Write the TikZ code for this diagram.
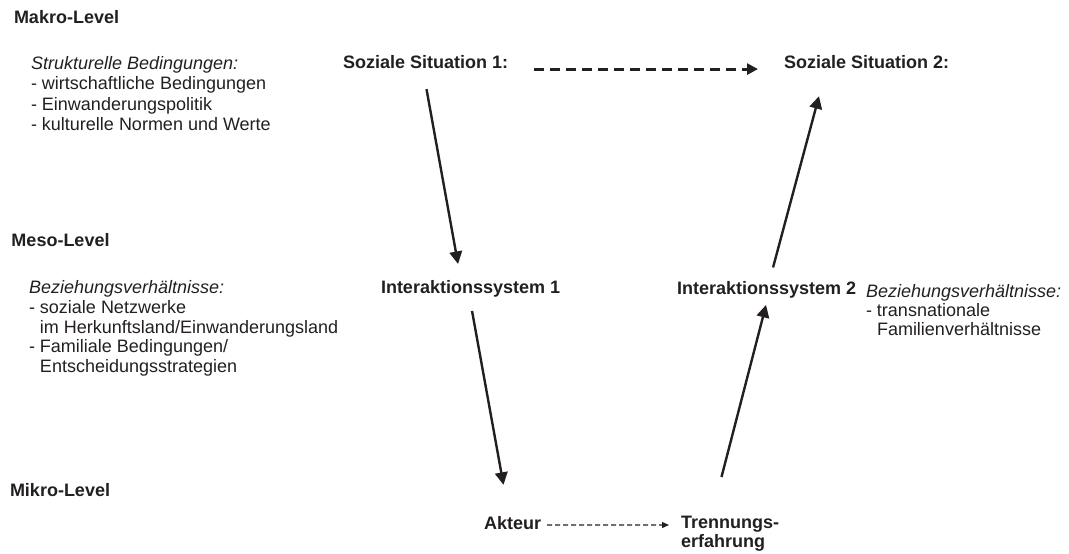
\documentclass[tikz,border=0pt]{standalone}
\usepackage{fontspec}
\setmainfont{Liberation Sans}
\usetikzlibrary{arrows.meta}
\definecolor{ink}{RGB}{35,31,32}
\begin{document}
\begin{tikzpicture}[x=1pt,y=-1pt,
  every node/.style={inner sep=0pt,outer sep=0pt,text=ink},
  lvl/.style={font=\fontsize{18}{20}\selectfont\bfseries,anchor=base west},
  main/.style={font=\fontsize{18}{20}\selectfont\bfseries,anchor=base west},
  note/.style={font=\fontsize{18}{20.3}\selectfont,anchor=north west,align=left},
  arr/.style={draw=ink,line width=2.4pt,-{Triangle[length=12.5pt,width=12.5pt]}},
  bigdash/.style={draw=ink,line width=3pt,dash pattern=on 10pt off 6pt,-{Triangle[length=11pt,width=11pt]}},
  smalldash/.style={draw=ink,line width=1.3pt,dash pattern=on 5pt off 3pt,-{Triangle[length=7pt,width=6pt]}}]
\useasboundingbox (0,0) rectangle (1069,554);
% level labels
\node[lvl] (makro) at (14,23.5) {Makro-Level};
\node[lvl] (meso) at (11.5,246.5) {Meso-Level};
\node[lvl] (mikro) at (10,496.5) {Mikro-Level};
% notes
\node[note] (struk) at (31,56.5) {\itshape Strukturelle Bedingungen:\\- wirtschaftliche Bedingungen\\- Einwanderungspolitik\\- kulturelle Normen und Werte};
\node[note,font=\fontsize{18}{19.8}\selectfont] (bez1) at (29,280.5) {\itshape Beziehungsverhältnisse:\\- soziale Netzwerke\\\phantom{- }im Herkunftsland/Einwanderungsland\\- Familiale Bedingungen/\\\phantom{- }Entscheidungsstrategien};
\node[note,font=\fontsize{18}{19}\selectfont] (bez2) at (866,284.5) {\itshape Beziehungsverhältnisse:\\- transnationale\\\phantom{- }Familienverhältnisse};
% main nodes
\node[main] (soz1) at (343,68.5) {Soziale Situation 1:};
\node[main] (soz2) at (784,68.5) {Soziale Situation 2:};
\node[main] (int1) at (381,293.5) {Interaktionssystem 1};
\node[main] (int2) at (677,294.5) {Interaktionssystem 2};
\node[main] (akt) at (484,529.5) {Akteur};
\node[note,font=\fontsize{18}{19}\selectfont\bfseries] (trenn) at (681,516.6) {Trennungs-\\erfahrung};
% connectors
\draw[bigdash] ([xshift=26pt,yshift=-7pt]soz1.east) -- ([xshift=-26pt,yshift=-7pt]soz2.west);
\draw[arr] ([xshift=1pt,yshift=-20.5pt]soz1.south) -- ([xshift=-12.5pt,yshift=16.5pt]int1.north);
\draw[arr] ([xshift=1.5pt,yshift=-13.7pt]int1.south) -- ([xshift=-9pt,yshift=31.6pt]akt.north);
\draw[smalldash] ([xshift=6pt,yshift=-2pt]akt.east) -- ([xshift=-12pt,yshift=-8.4pt]trenn.north west);
\draw[arr] ([xshift=-8.5pt,yshift=39.6pt]trenn.north) -- ([xshift=-0.5pt,yshift=-6.7pt]int2.south);
\draw[arr] ([xshift=6.5pt,yshift=14pt]int2.north) -- ([xshift=35pt,yshift=-27.5pt]soz2.south west);
\end{tikzpicture}
\end{document}
